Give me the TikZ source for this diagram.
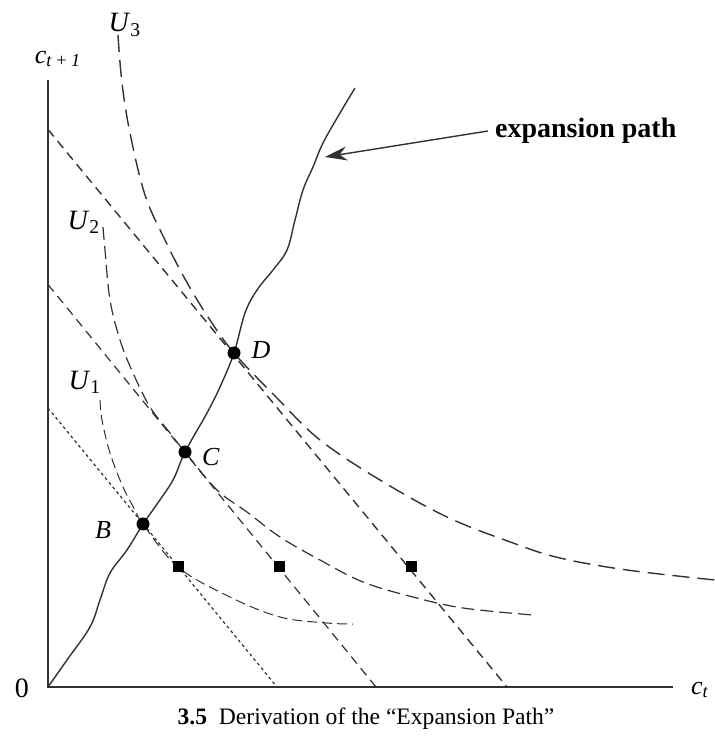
\documentclass[tikz,border=0pt]{standalone}
\usepackage{fontspec}
\setmainfont{Liberation Serif}
\usepackage{tikz}
\usetikzlibrary{arrows.meta,calc}
\definecolor{mygray}{RGB}{50,50,50}

\begin{document}
\begin{tikzpicture}[x=0.5pt,y=0.5pt,>=Stealth,
  every node/.style={font=\fontsize{13}{15}\selectfont},
  ulong/.style={line width=0.7pt,mygray,dash pattern=on 8.5pt off 4pt},
  umid/.style={line width=0.6pt,mygray,dash pattern=on 6.5pt off 3pt},
  ushort/.style={line width=0.5pt,mygray,dash pattern=on 5pt off 2.5pt},
  budget/.style={line width=0.7pt,mygray,dash pattern=on 4.5pt off 3pt},
  dot/.style={circle,fill=black,inner sep=0pt,minimum size=6.5pt},
  sq/.style={rectangle,fill=black,inner sep=0pt,minimum size=5.5pt}]
  \useasboundingbox (-48,-51) rectangle (667,687);
  % axes
  \draw[line width=1pt,mygray](0,607)--(0,0)--(625,0);
  \node (orig) at (-26,-1){\fontsize{14}{16}\selectfont 0};
  \node (xlab) at (652,-3){\textit{c}\textsubscript{\textit{t}}};
  \node (ylab) at (10,628){\textit{c}\textsubscript{\textit{t} + \textit{1}}};
  % budget lines
  \draw[budget,dash pattern=on 1.5pt off 1.5pt,line width=0.6pt](0,279)--(229,0);
  \draw[budget,line width=0.6pt](0,402.5)--(328,0);
  \draw[budget](0,557.5)--(459,0);
  % indifference curves
  \draw[ushort] plot[smooth,tension=0.6] coordinates {(52,287) (54,267) (62,234) (75,200) (87,177) (95,163) (130,120) (182,90) (232,70) (279,64) (305,63)};
  \draw[umid] plot[smooth,tension=0.6] coordinates {(55,460) (57,437) (62,387) (72,347) (85,314) (102,280) (122,254) (137,235) (169,197) (199,175) (232,150) (272,127) (315,105) (365,90) (415,79) (485,72)};
  \draw[ulong] plot[smooth,tension=0.6] coordinates {(70,652) (74,604) (82,554) (97,492) (117,447) (137,408) (160,370) (186,334) (229,289) (272,247) (332,207) (399,170) (465,144) (512,129) (579,117) (667,107)};
  \node (u1) at (37,305){\fontsize{14}{16}\selectfont\textit{U}\textsubscript{1}};
  \node (u2) at (36,465){\fontsize{14}{16}\selectfont\textit{U}\textsubscript{2}};
  \node (u3) at (77,662){\fontsize{14}{16}\selectfont\textit{U}\textsubscript{3}};
  % expansion path
  \draw[line width=0.7pt,mygray] plot[smooth,tension=0.6] coordinates {(0,0) (19,27) (42,60) (52,87) (62,114) (79,137) (95,163) (107,180) (125,207) (137,235) (159,274) (172,300) (186,334) (197,374) (209,397) (225,417) (239,437) (247,467) (255,497) (265,520) (275,544) (292,574) (307,599)};
  \node[dot] (B) at (95,163){};
  \node[dot] (C) at (137,235){};
  \node[dot] (D) at (186,334){};
  \node (Blab) at (55,157){\textit{B}};
  \node (Clab) at (163,230){\textit{C}};
  \node (Dlab) at (213,337){\textit{D}};
  \node[sq] (s1) at (130,120){};
  \node[sq] (s2) at (231,120){};
  \node[sq] (s3) at (363,120){};
  \node[anchor=west,font=\fontsize{14}{16}\selectfont\bfseries] (exptext) at (440,556){expansion path};
  \coordinate (tip) at (277,530);
  \draw[-{Stealth[length=11pt,width=7pt]},line width=0.7pt,mygray](exptext.west)--(tip);
  \node[font=\fontsize{11.8}{14}\selectfont] (cap) at (318,-32){\textbf{3.5}\ \ Derivation of the “Expansion Path”};
\end{tikzpicture}
\end{document}
